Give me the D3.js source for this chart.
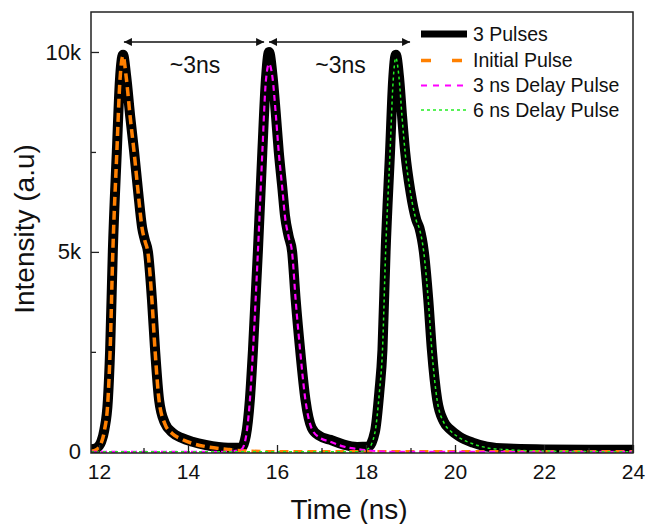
<!DOCTYPE html>
<meta charset="utf-8">
<script src="https://d3js.org/d3.v7.min.js"></script>
<style>
body { margin:0; background:white; overflow:hidden; }
svg text { font-family: "Liberation Sans", Arial, sans-serif; fill:#111; }
</style>
<body>
<div id="chart"></div>
<script>

// 3 Pulses (measured, black)
var pulsesTime = [11.82,11.95,12.05,12.12,12.2,12.25,12.31,12.4,12.47,12.54,12.61,12.7,12.79,12.88,12.97,13.03,13.1,13.19,13.26,13.35,13.48,13.65,13.85,14.1,14.4,14.9,15.2,
  15.3,15.39,15.46,15.57,15.67,15.75,15.82,15.9,15.97,16.04,16.12,16.18,16.26,16.34,16.42,16.52,16.64,16.78,16.95,17.2,17.5,17.8,18.05,
  18.2,18.3,18.37,18.44,18.54,18.61,18.67,18.74,18.81,18.88,19.0,19.13,19.2,19.3,19.4,19.48,19.6,19.75,19.9,20.1,20.4,20.72,21.2,22.0,23.0,24.0];
var pulsesI = [60,100,250,550,1300,2550,5000,7500,9300,9930,9400,8400,7500,6500,5600,5300,5000,3800,2550,1300,720,480,350,250,170,100,110,
  400,1300,2550,5000,7500,9300,10000,9400,8500,7500,6600,5900,5400,5000,3800,2550,1300,600,400,300,180,120,130,
  500,1500,2550,5000,7500,9300,9930,9400,8400,7500,6500,5800,5600,5000,3800,2550,1300,750,550,380,230,130,80,60,50,50];

// Initial Pulse (orange)
var initialTime = [11.82,11.95,12.05,12.12,12.2,12.25,12.31,12.4,12.47,12.54,12.61,12.7,12.79,12.88,12.97,13.03,13.1,13.19,13.26,13.35,13.48,13.65,13.85,14.1,14.4,14.9,15.3,16.0,24.0];
var initialI = [10,60,220,520,1280,2530,4980,7480,9280,9900,9380,8380,7480,6480,5580,5280,4980,3780,2530,1280,700,450,320,210,130,60,20,0,0];

// 3 ns Delay Pulse (magenta)
var delay3Time = [11.82,14.8,15.2,15.3,15.39,15.46,15.57,15.67,15.75,15.82,15.9,15.97,16.04,16.12,16.18,16.26,16.34,16.42,16.52,16.64,16.78,16.95,17.2,17.5,17.8,18.2,18.6,24.0];
var delay3I = [0,0,60,360,1280,2530,4980,7480,9280,9700,9350,8480,7480,6580,5880,5380,4980,3780,2530,1280,580,360,250,130,70,20,0,0];

// 6 ns Delay Pulse (green)
var delay6Time = [11.82,17.8,18.05,18.2,18.3,18.37,18.44,18.54,18.61,18.67,18.74,18.81,18.88,19.0,19.13,19.2,19.3,19.4,19.48,19.6,19.75,19.9,20.1,20.4,20.72,21.2,22.0,24.0];
var delay6I = [0,0,80,480,1480,2530,4980,7480,9280,9850,9380,8380,7480,6480,5780,5580,4980,3780,2530,1280,730,520,350,200,100,50,20,0];

var seriesNames = ["3 Pulses", "Initial Pulse", "3 ns Delay Pulse", "6 ns Delay Pulse"];

var xTicks = [12,14,16,18,20,22,24];
var xMinorTicks = [13,15,17,19,21,23];
var yTicks = [0,5000,10000];
var yTickLabels = ["0","5k","10k"];
var yMinorTicks = [2500,7500];

// "~3ns" arrows: [start, end] in ns, at this intensity
var arrowSpans = [[12.56,15.71],[15.82,18.99]];
var arrowLevel = 10250;
var arrowLabel = "~3ns";

var
  width = 645,
  height = 524,
  margin = {left:91, right:12, top:12, bottom:71},
  svg = d3.select('#chart').append('svg')
          .attr('width', width)
          .attr('height', height);

var x = d3.scaleLinear().domain([11.82, 24]).range([margin.left, width - margin.right]);
var y = d3.scaleLinear().domain([-30, 11000]).range([height - margin.bottom, margin.top]);

var line = d3.line()
  .x(function(d) {return x(d[0])})
  .y(function(d) {return y(d[1])})
  .curve(d3.curveMonotoneX);

var zip = function(t, v) { return t.map(function(d, i) {return [d, v[i]]}); };

var styles = [
  {color:'#000000', width:10,  dash:null,  legendDash:null},
  {color:'#ff8000', width:3.5, dash:'9,5', legendDash:'10,21'},
  {color:'#ff00ff', width:2.2, dash:'6,4', legendDash:'6,6'},
  {color:'#22ee22', width:1.5, dash:'3,3', legendDash:'3,3'}
];

var data = [
  zip(pulsesTime, pulsesI),
  zip(initialTime, initialI),
  zip(delay3Time, delay3I),
  zip(delay6Time, delay6I)
];

var plot = svg.append('g');
plot.append('clipPath').attr('id','clip')
  .append('rect')
  .attr('x', margin.left).attr('y', margin.top)
  .attr('width', width - margin.left - margin.right)
  .attr('height', height - margin.top - margin.bottom);

plot.selectAll('path.series')
  .data(data)
  .enter()
  .append('path')
  .attr('class','series')
  .attr('clip-path','url(#clip)')
  .attr('d', line)
  .attr('fill','none')
  .attr('stroke', function(d,i) {return styles[i].color})
  .attr('stroke-width', function(d,i) {return styles[i].width})
  .attr('stroke-dasharray', function(d,i) {return styles[i].dash})
  .attr('stroke-linejoin','round')
  .attr('stroke-linecap', function(d,i) {return i == 0 ? 'round' : 'butt'});

// frame
svg.append('rect')
  .attr('x', margin.left).attr('y', margin.top)
  .attr('width', width - margin.left - margin.right)
  .attr('height', height - margin.top - margin.bottom)
  .attr('fill','none').attr('stroke','#222').attr('stroke-width',1.5);

// axes with inward ticks
var xAxis = svg.append('g').attr('transform','translate(0,' + (height - margin.bottom) + ')')
  .call(d3.axisBottom(x).tickValues(xTicks).tickSizeInner(-8).tickSizeOuter(0).tickPadding(10).tickFormat(d3.format('d')));
svg.append('g').attr('transform','translate(0,' + (height - margin.bottom) + ')')
  .call(d3.axisBottom(x).tickValues(xMinorTicks).tickSizeInner(-5).tickSizeOuter(0).tickFormat(''));
var yAxis = svg.append('g').attr('transform','translate(' + margin.left + ',0)')
  .call(d3.axisLeft(y).tickValues(yTicks).tickSizeInner(-8).tickSizeOuter(0).tickPadding(10)
    .tickFormat(function(d,i) {return yTickLabels[i]}));
svg.append('g').attr('transform','translate(' + margin.left + ',0)')
  .call(d3.axisLeft(y).tickValues(yMinorTicks).tickSizeInner(-5).tickSizeOuter(0).tickFormat(''));

svg.selectAll('.domain').remove();
svg.selectAll('.tick line').attr('stroke','#222').attr('stroke-width',1.3);
svg.selectAll('.tick text').attr('font-size', 21).attr('font-family','"Liberation Sans", Arial, sans-serif').attr('fill','#111');
yAxis.selectAll('.tick text').attr('font-size', 22);
xAxis.selectAll('.tick text').attr('dy','0.75em');

// axis titles
svg.append('text')
  .attr('x', 349).attr('y', 519)
  .attr('text-anchor','middle')
  .attr('font-size', 28)
  .text('Time (ns)');
svg.append('text')
  .attr('transform','translate(34,229) rotate(-90)')
  .attr('text-anchor','middle')
  .attr('font-size', 28)
  .text('Intensity (a.u)');

// arrows
var defs = svg.append('defs');
defs.append('marker').attr('id','arrowEnd')
  .attr('viewBox','0 0 10 10').attr('refX',10).attr('refY',5)
  .attr('markerWidth',12).attr('markerHeight',8).attr('markerUnits','userSpaceOnUse')
  .attr('orient','auto-start-reverse')
  .append('path').attr('d','M0,0 L10,5 L0,10 Z').attr('fill','#111');

svg.selectAll('line.span')
  .data(arrowSpans)
  .enter()
  .append('line')
  .attr('class','span')
  .attr('x1', function(d) {return x(d[0])})
  .attr('x2', function(d) {return x(d[1])})
  .attr('y1', y(arrowLevel)).attr('y2', y(arrowLevel))
  .attr('stroke','#111').attr('stroke-width',1.3)
  .attr('marker-start','url(#arrowEnd)')
  .attr('marker-end','url(#arrowEnd)');

svg.selectAll('text.span')
  .data(arrowSpans)
  .enter()
  .append('text')
  .attr('class','span')
  .attr('x', function(d) {return (x(d[0]) + x(d[1])) / 2 + 1})
  .attr('y', y(arrowLevel) + 31)
  .attr('text-anchor','middle')
  .attr('font-size', 23)
  .text(arrowLabel);

// legend
var legend = svg.append('g').attr('transform','translate(421,34)');
var rows = legend.selectAll('g')
  .data(seriesNames)
  .enter()
  .append('g')
  .attr('transform', function(d,i) {return 'translate(0,' + [0,26.5,51.5,76][i] + ')'});
rows.append('line')
  .attr('x1',0).attr('x2',46).attr('y1',0).attr('y2',0)
  .attr('stroke', function(d,i) {return styles[i].color})
  .attr('stroke-width', function(d,i) {return i == 0 ? 7 : styles[i].width})
  .attr('stroke-dasharray', function(d,i) {return styles[i].legendDash});
rows.append('text')
  .attr('x', 52).attr('y', 0).attr('dy','0.35em')
  .attr('font-size', 19.5)
  .text(function(d) {return d});

</script>
</body>
